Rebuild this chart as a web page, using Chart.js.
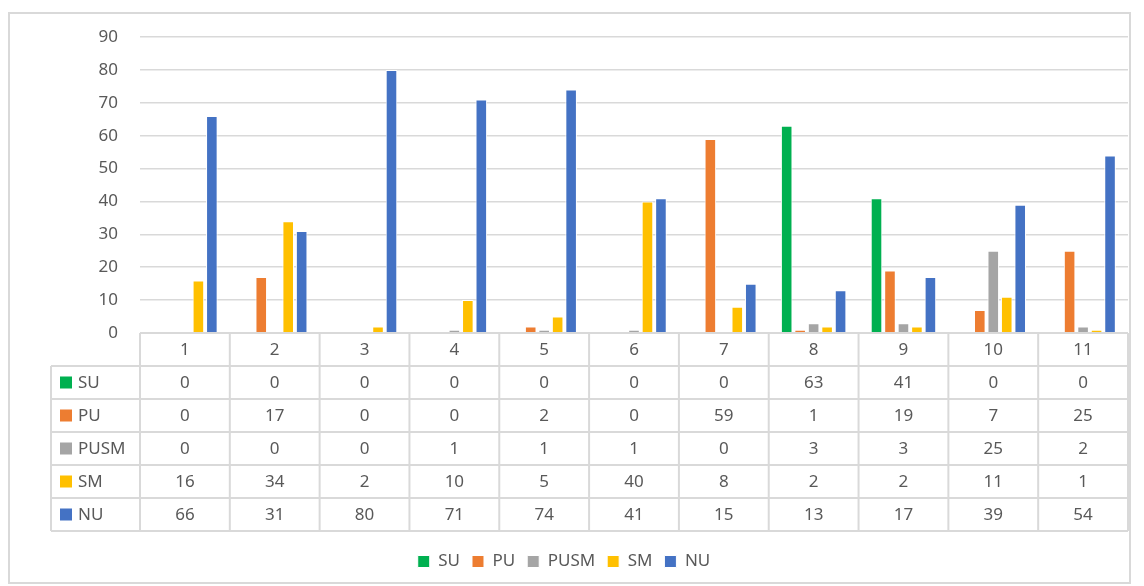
<!DOCTYPE html>
<html>
<head>
<meta charset="utf-8">
<script src="https://cdn.jsdelivr.net/npm/chart.js@4/dist/chart.umd.min.js"></script>
<style>
  html, body { margin: 0; padding: 0; background: #fff; }
  #wrap { width: 1144px; height: 586px; position: relative; }
</style>
</head>
<body>
<div id="wrap"><canvas id="chart"></canvas></div>
<script>
const categories = ['1', '2', '3', '4', '5', '6', '7', '8', '9', '10', '11'];
const su   = [0, 0, 0, 0, 0, 0, 0, 63, 41, 0, 0];
const pu   = [0, 17, 0, 0, 2, 0, 59, 1, 19, 7, 25];
const pusm = [0, 0, 0, 1, 1, 1, 0, 3, 3, 25, 2];
const sm   = [16, 34, 2, 10, 5, 40, 8, 2, 2, 11, 1];
const nu   = [66, 31, 80, 71, 74, 41, 15, 13, 17, 39, 54];

const seriesNames = ['SU', 'PU', 'PUSM', 'SM', 'NU'];
const seriesData = [su, pu, pusm, sm, nu];
const colors = ['#00B050', '#ED7D31', '#A5A5A5', '#FFC000', '#4472C4'];

const textColor = '#595959';
const lineColor = '#d9d9d9';
const fontFamily = '"Noto Sans", "Open Sans", sans-serif';

// draws the outer frame and the data table under the plot
const dataTable = {
    id: 'dataTable',
    beforeDraw(chart) {
        const ctx = chart.ctx;
        ctx.save();
        ctx.fillStyle = '#fff';
        ctx.fillRect(0, 0, chart.width, chart.height);
        ctx.strokeStyle = lineColor;
        ctx.lineWidth = 2;
        ctx.strokeRect(9, 13, 1121, 570);
        ctx.restore();
    },
    afterDraw(chart) {
        const ctx = chart.ctx;
        const area = chart.chartArea;
        const x = chart.scales.x;
        const colW = (area.right - area.left) / categories.length;
        const rowH = 33;
        const top = area.bottom;
        const labelLeft = 51;
        const nRows = seriesNames.length;
        const bottom = top + rowH * (nRows + 1);

        ctx.save();
        ctx.strokeStyle = lineColor;
        ctx.lineWidth = 2;
        ctx.beginPath();
        // header row
        ctx.moveTo(area.left, top);
        ctx.lineTo(area.right, top);
        for (let r = 1; r <= nRows + 1; r++) {
            ctx.moveTo(labelLeft, top + rowH * r);
            ctx.lineTo(area.right, top + rowH * r);
        }
        ctx.moveTo(labelLeft, top + rowH);
        ctx.lineTo(labelLeft, bottom);
        for (let c = 0; c <= categories.length; c++) {
            const cx = area.left + colW * c;
            ctx.moveTo(cx, top);
            ctx.lineTo(cx, bottom);
        }
        ctx.stroke();

        ctx.fillStyle = textColor;
        ctx.font = '17px ' + fontFamily;
        ctx.textAlign = 'center';
        ctx.textBaseline = 'middle';
        categories.forEach((cat, i) => {
            const cx = x.getPixelForValue(i);
            ctx.fillText(cat, cx, top + rowH / 2 + 1);
            seriesData.forEach((arr, r) => {
                ctx.fillText(String(arr[i]), cx, top + rowH * (r + 1) + rowH / 2 + 1);
            });
        });

        ctx.textAlign = 'left';
        seriesNames.forEach((name, r) => {
            const cy = top + rowH * (r + 1) + rowH / 2;
            ctx.fillStyle = colors[r];
            ctx.fillRect(60, cy - 6, 12, 12);
            ctx.fillStyle = textColor;
            ctx.fillText(name, 78, cy + 1);
        });
        ctx.restore();
    }
};

new Chart(document.getElementById('chart'), {
    type: 'bar',
    data: {
        labels: categories,
        datasets: seriesNames.map((name, i) => ({
            label: name,
            data: seriesData[i],
            backgroundColor: colors[i],
            borderColor: '#ffffff',
            borderWidth: 1,
            barPercentage: 0.86,
            categoryPercentage: 0.75,
        }))
    },
    options: {
        responsive: true,
        maintainAspectRatio: false,
        animation: false,
        layout: {
            padding: { top: 37, right: 16, bottom: 6, left: 0 }
        },
        scales: {
            x: {
                grid: { display: false },
                border: { display: false },
                ticks: { display: false },
                afterFit(scale) {
                    scale.height = 208;
                }
            },
            y: {
                min: 0,
                max: 90,
                grid: {
                    color: lineColor,
                    lineWidth: 1.5,
                    drawTicks: false,
                },
                border: { display: false },
                ticks: {
                    stepSize: 10,
                    padding: 22,
                    color: textColor,
                    font: { family: fontFamily, size: 17 },
                },
                afterFit(scale) {
                    scale.width = 140;
                }
            }
        },
        plugins: {
            legend: {
                position: 'bottom',
                labels: {
                    boxWidth: 12,
                    boxHeight: 12,
                    padding: 12,
                    color: textColor,
                    font: { family: fontFamily, size: 17 },
                }
            },
            tooltip: { enabled: false }
        }
    },
    plugins: [dataTable]
});
</script>
</body>
</html>
